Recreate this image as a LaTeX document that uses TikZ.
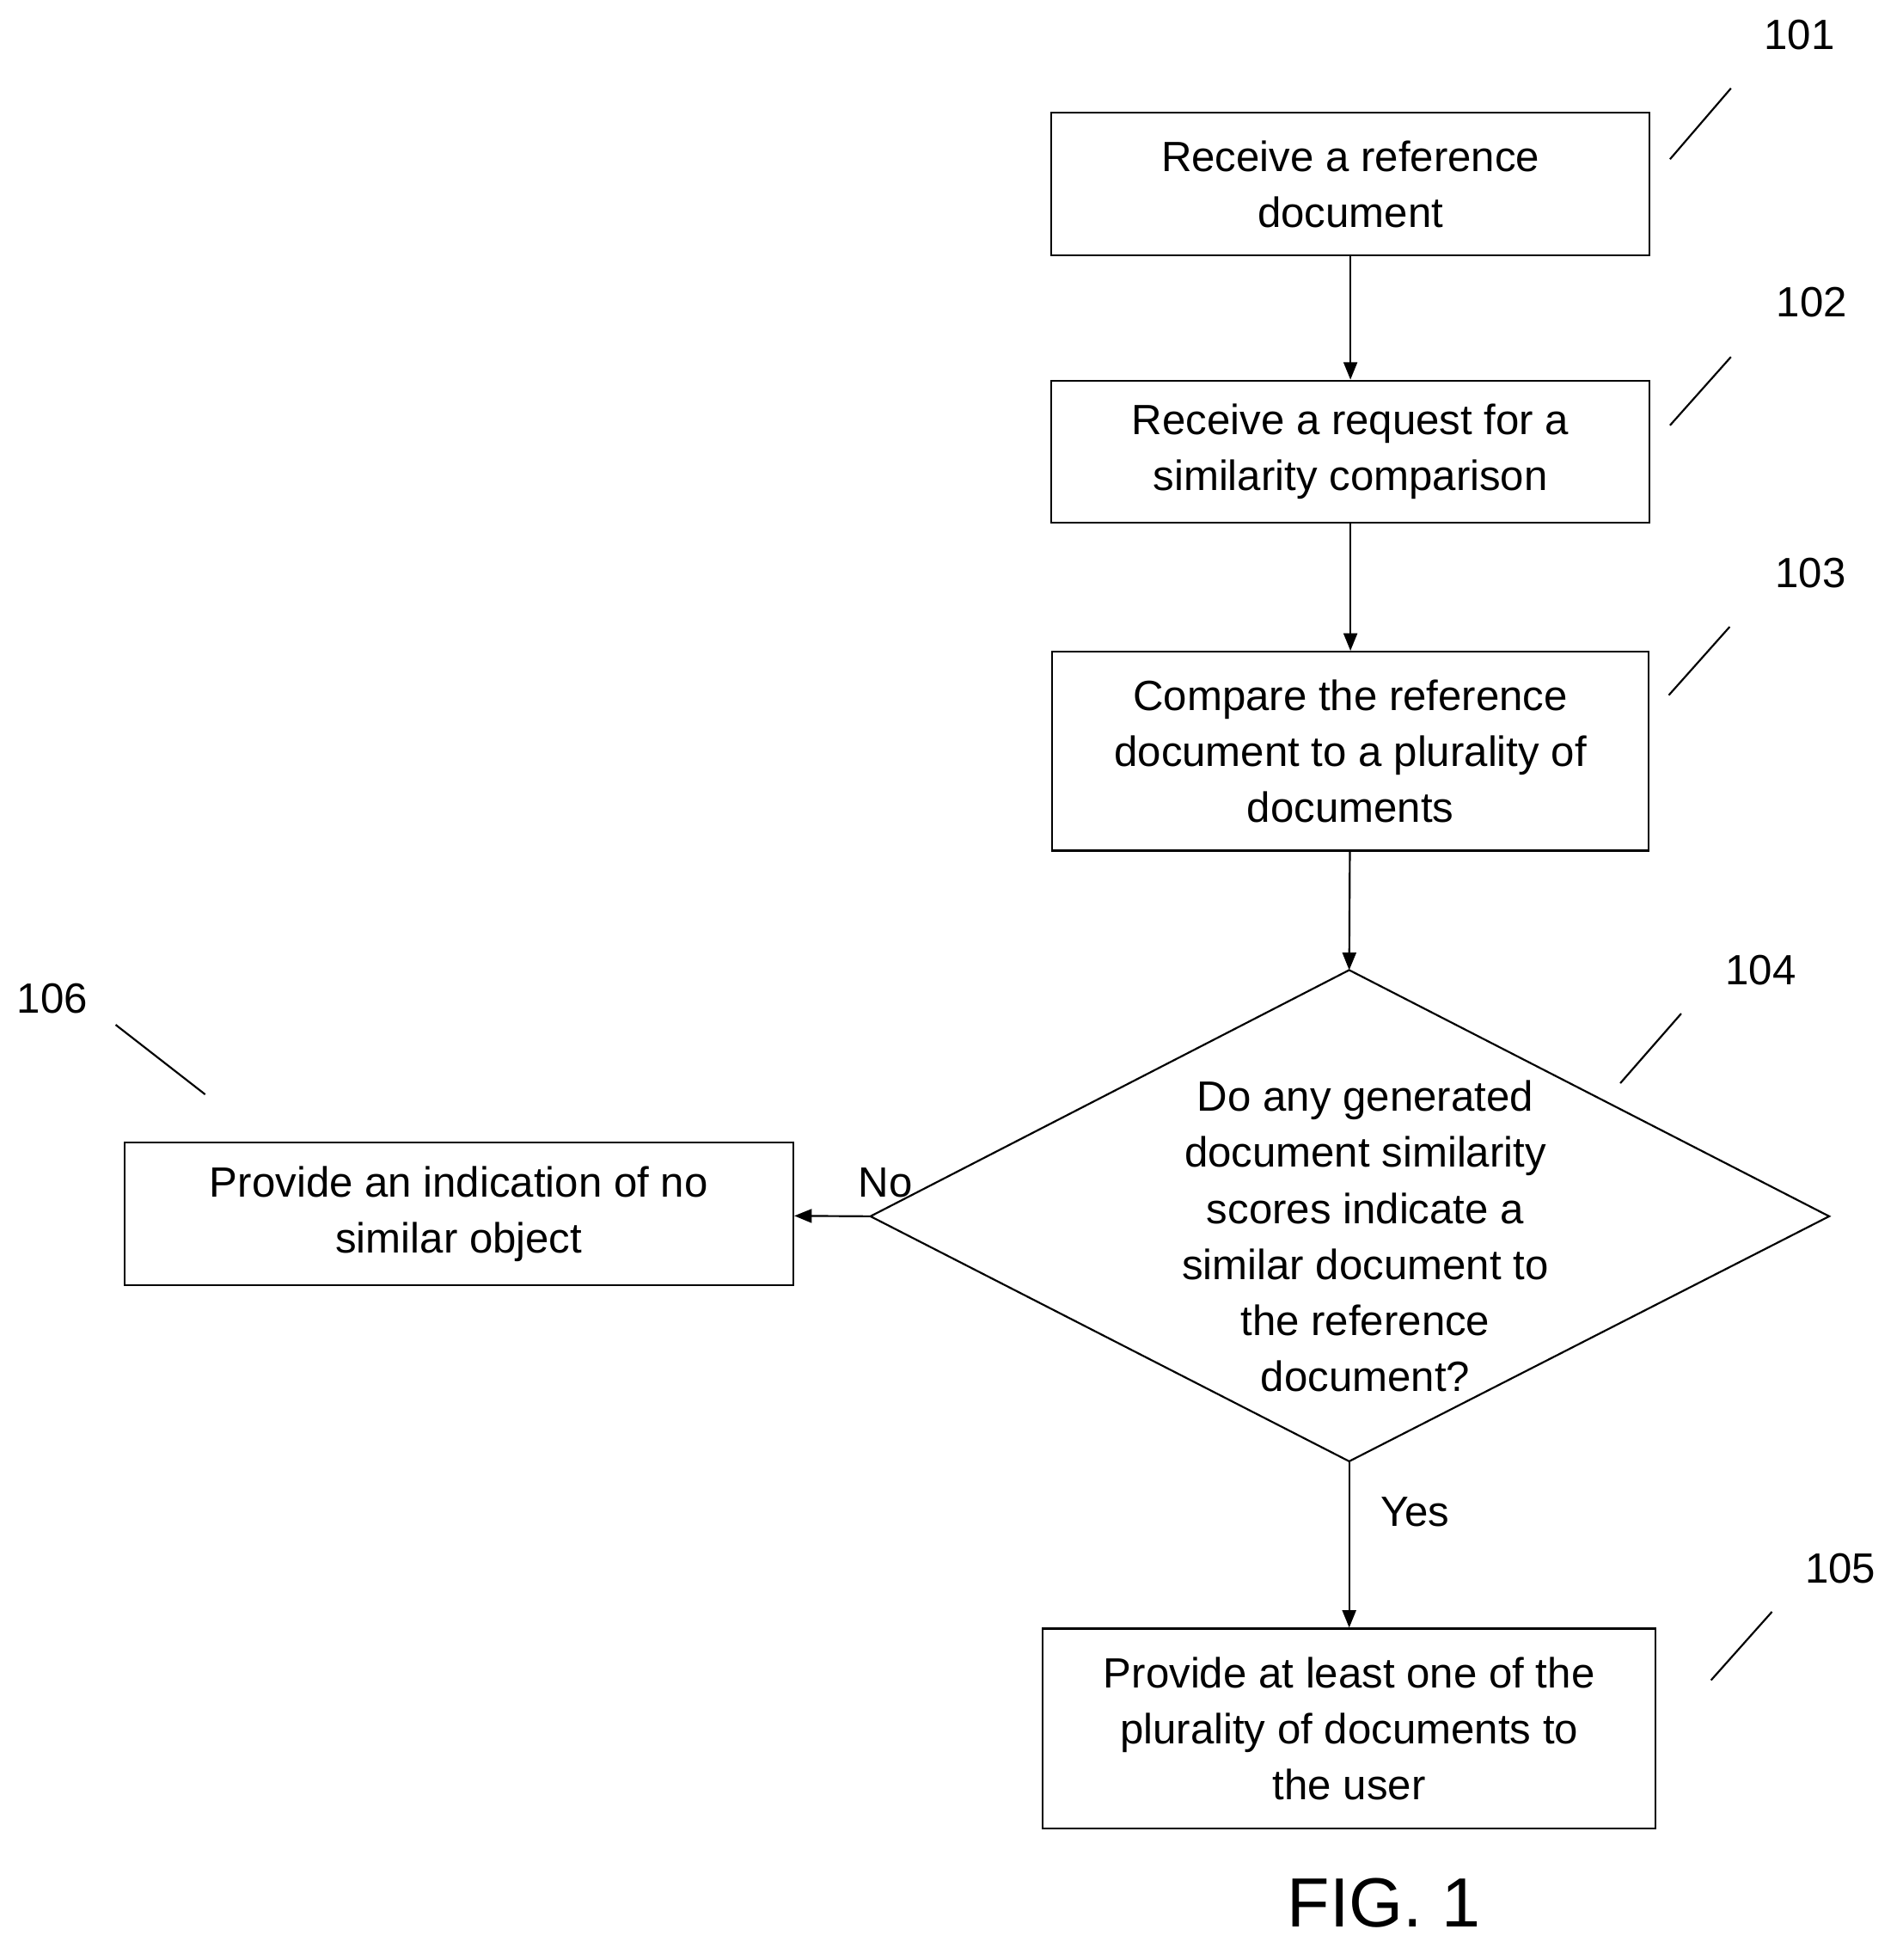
\documentclass[tikz,border=0pt]{standalone}
\usepackage{fontspec}
\setmainfont{Liberation Sans}
\usetikzlibrary{arrows.meta}
\begin{document}
\begin{tikzpicture}[x=1pt,y=-1pt,
  box/.style={draw,line width=1.5pt,align=center,inner sep=0pt,font=\fontsize{34}{45}\selectfont},
  lbl/.style={font=\fontsize{34}{40}\selectfont},
  lead/.style={line width=1.5pt},
  arr/.style={line width=1.5pt,-{Triangle[length=14pt,width=11pt]}}]
\useasboundingbox (0,0) rectangle (1530,1576);
\node[box,minimum width=481,minimum height=115] (b1) at (1086,148) {Receive a reference\\document};
\node[box,minimum width=481,minimum height=114] (b2) at (1086,363) {Receive a request for a\\similarity comparison};
\node[box,minimum width=480,minimum height=160] (b3) at (1086,604) {Compare the reference\\document to a plurality of\\documents};
\coordinate (dt) at (1085,780); \coordinate (dl) at (700,978);
\coordinate (dr) at (1471,978); \coordinate (db) at (1085,1175);
\draw[line width=1.5pt] (dt)--(dr)--(db)--(dl)--cycle;
\node[box,draw=none] (d) at (1098,994) {Do any generated\\document similarity\\scores indicate a\\similar document to\\the reference\\document?};
\node[box,minimum width=493,minimum height=161] (b5) at (1085,1390) {Provide at least one of the\\plurality of documents to\\the user};
\node[box,minimum width=538,minimum height=115] (b6) at (369,976) {Provide an indication of no\\similar object};
\draw[arr] (b1)--(b2);
\draw[arr] (b2)--(b3);
\draw[arr] (b3)--(dt);
\draw[arr] (db)--(b5);
\draw[arr] (dl)--(b6);
\node[lbl] (no) at (712,951) {No};
\node[lbl] (yes) at (1138,1216) {Yes};
\node[lbl] (l1) at (1447,28) {101};
\node[lbl] (l2) at (1457,243) {102};
\node[lbl] (l3) at (1456,461) {103};
\node[lbl] (l4) at (1416,780) {104};
\node[lbl] (l5) at (1480,1261) {105};
\node[lbl] (l6) at (42,803) {106};
\draw[lead] (1343,128)--(1392,71);
\draw[lead] (1343,342)--(1392,287);
\draw[lead] (1342,559)--(1391,504);
\draw[lead] (1303,871)--(1352,815);
\draw[lead] (1376,1351)--(1425,1296);
\draw[lead] (93,824)--(165,880);
\node[font=\fontsize{56}{60}\selectfont] (fig) at (1113,1530) {FIG. 1};
\end{tikzpicture}
\end{document}
